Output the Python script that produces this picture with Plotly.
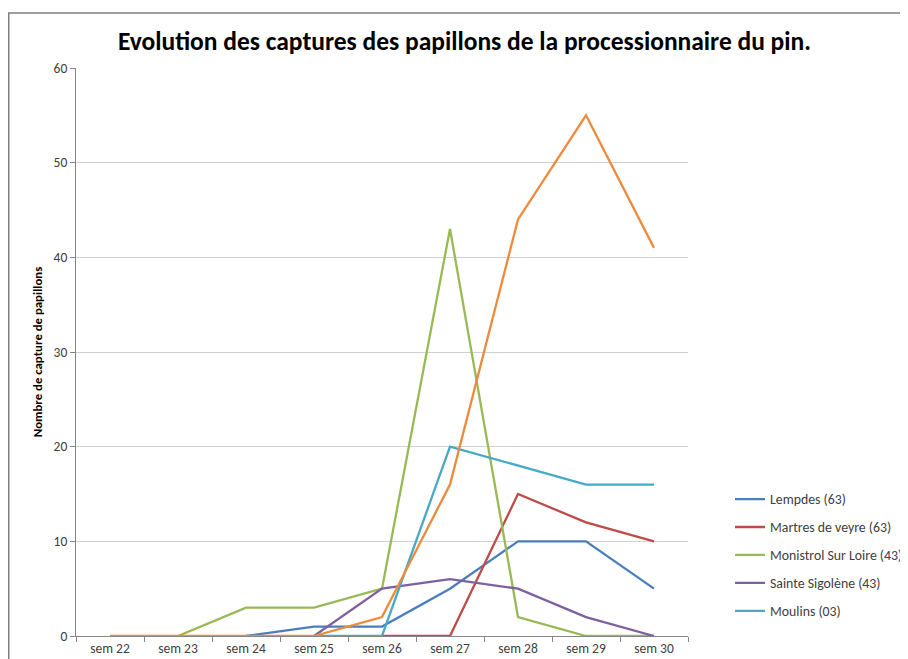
import plotly.graph_objects as go

weeks = ["sem 22", "sem 23", "sem 24", "sem 25", "sem 26", "sem 27", "sem 28", "sem 29", "sem 30"]

lempdes = [None, None, 0, 1, 1, 5, 10, 10, 5]
martres = [None, None, None, None, 0, 0, 15, 12, 10]
monistrol = [None, 0, 3, 3, 5, 43, 2, 0, 0]
sigolene = [None, None, None, 0, 5, 6, 5, 2, 0]
moulins = [None, None, None, 0, 0, 20, 18, 16, 16]
sixth = [0, 0, 0, 0, 2, 16, 44, 55, 41]

series = [
    ("Lempdes (63)", lempdes, "#4A7EBB", True),
    ("Martres de veyre (63)", martres, "#BE4B48", True),
    ("Monistrol Sur Loire (43)", monistrol, "#98B954", True),
    ("Sainte Sigolène (43)", sigolene, "#7D60A0", True),
    ("Moulins (03)", moulins, "#46AAC5", True),
    ("Série 6", sixth, "#EE8A3C", False),
]

fig = go.Figure()
for i, (name, vals, color, show) in enumerate(series):
    fig.add_trace(go.Scatter(
        x=weeks, y=vals, name=name, mode="lines",
        line=dict(color=color, width=2.3),
        connectgaps=False, showlegend=show, legendgroup=f"g{i}",
    ))

font_family = "Carlito, Lato, 'Open Sans', sans-serif"

W, H = 900, 651
L, R, T, B = 68, 220, 60, 23
PW = W - L - R
PH = H - T - B

fig.update_layout(
    width=W, height=H,
    margin=dict(l=L, r=R, t=T, b=B, autoexpand=False),
    paper_bgcolor="white", plot_bgcolor="white",
    font=dict(family=font_family, color="#404040", size=13),
    title=dict(
        text="<b>Evolution des captures des papillons de la processionnaire du pin.</b>",
        x=456.5 / W, xanchor="center", y=1 - 33 / H, yanchor="middle",
        font=dict(size=25.5, color="#000000", family=font_family),
    ),
    xaxis=dict(
        type="category", range=[-0.5, 8.5], tickson="boundaries",
        ticks="outside", ticklen=5, tickcolor="#868686",
        showline=True, linecolor="#868686", linewidth=1,
        showgrid=False, tickfont=dict(size=13.5, color="#404040"),
        fixedrange=True, automargin=False,
    ),
    yaxis=dict(
        range=[0, 60], dtick=10, ticks="outside", ticklen=5, tickcolor="#868686",
        showline=True, linecolor="#868686", linewidth=1,
        showgrid=True, gridcolor="#D0D0D0", gridwidth=1, zeroline=False,
        tickfont=dict(size=13.5, color="#404040"), automargin=False,
        title=dict(text="<b>Nombre de capture de papillons</b>",
                   font=dict(size=12.8, color="#000000"), standoff=8),
    ),
    legend=dict(
        x=(722 - L) / PW, xanchor="left",
        y=(PH + T - 475.6) / PH, yanchor="top",
        traceorder="grouped", tracegroupgap=7,
        font=dict(size=13.8, color="#404040"),
        bgcolor="rgba(0,0,0,0)",
    ),
    shapes=[dict(
        type="rect", xref="paper", yref="paper",
        x0=(0.75 - L) / PW, x1=1.5, y0=-0.2, y1=(PH + T - 5) / PH,
        line=dict(color="#7F7F7F", width=1.5), fillcolor="rgba(0,0,0,0)",
        layer="below",
    )],
)

fig.write_html("out.html")
